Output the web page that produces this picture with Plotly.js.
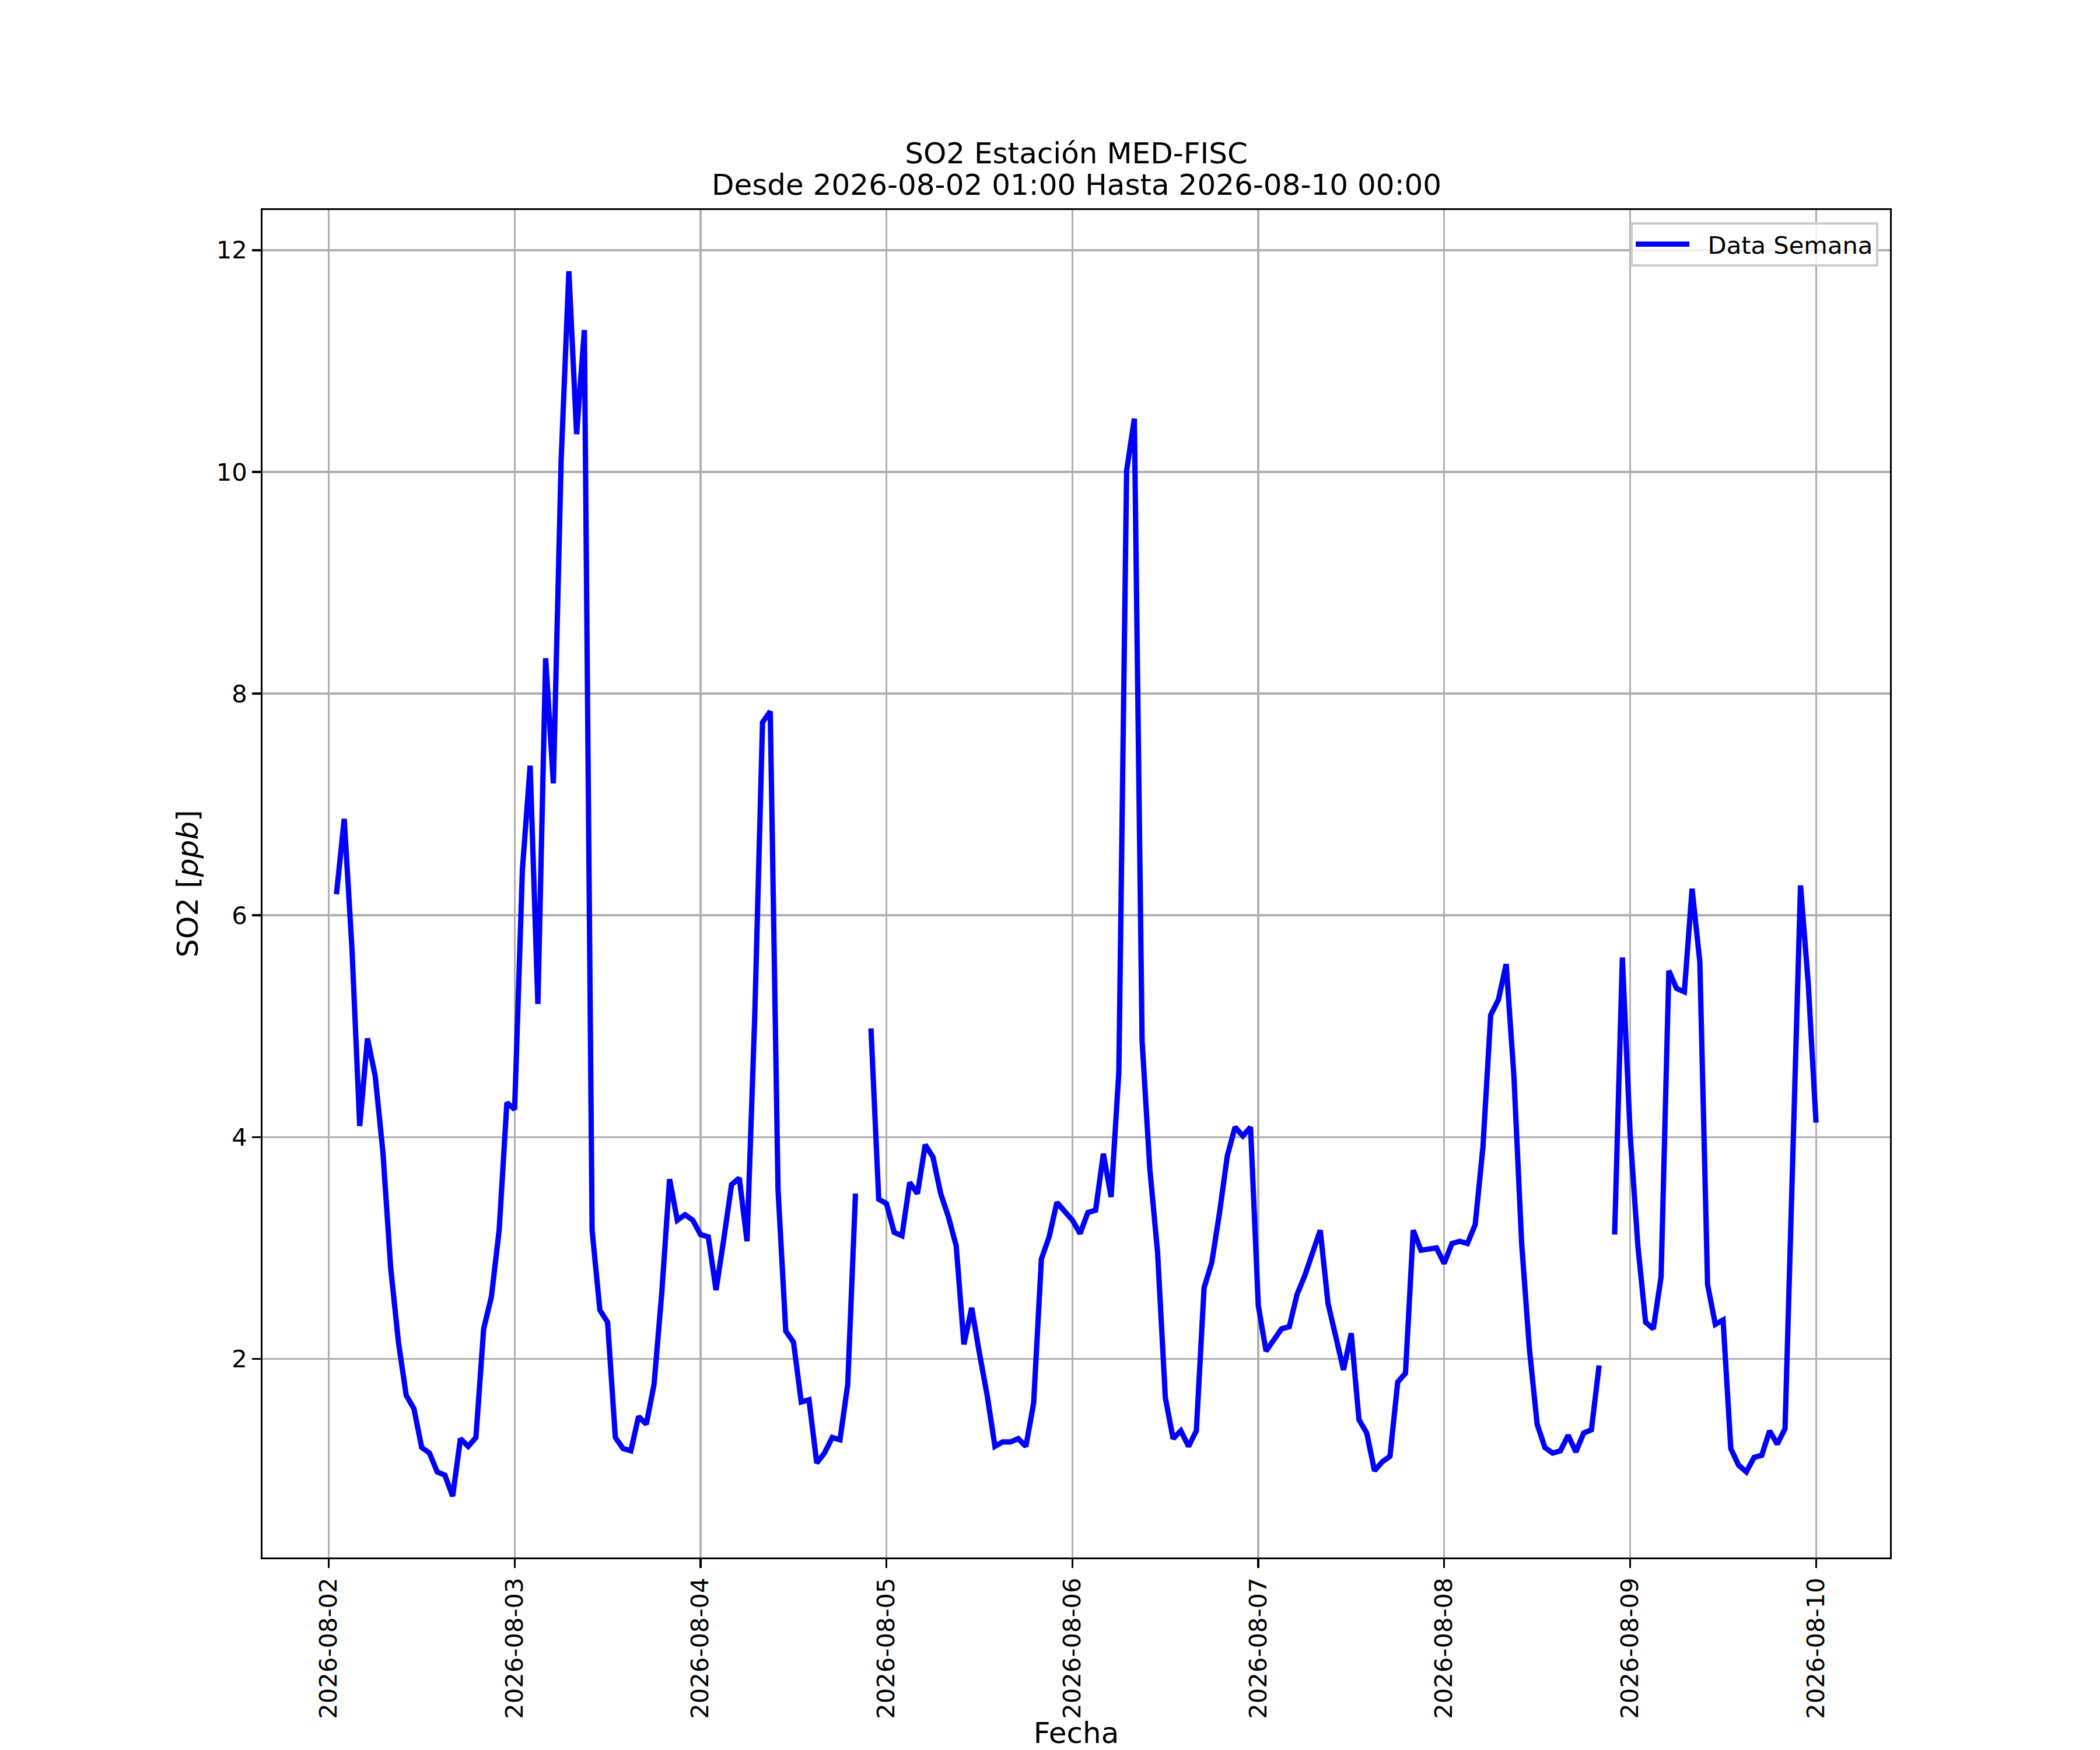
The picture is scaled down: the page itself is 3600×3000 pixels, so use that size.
<!DOCTYPE html>
<html>
<head>
<meta charset="utf-8">
<script src="https://cdn.plot.ly/plotly-3.0.1.min.js"></script>
<style>
  html, body { margin: 0; padding: 0; background: #ffffff; }
  #chart { width: 3600px; height: 3000px; }
</style>
</head>
<body>
<div id="chart"></div>
<script>
// Hourly SO2 readings (ppb), 01:00 of each day through 00:00 of the next day
const so2_0802 = [6.19, 6.87, 5.70, 4.10, 4.89, 4.55, 3.86, 2.82, 2.15, 1.67, 1.55, 1.20,
                  1.15, 0.98, 0.95, 0.76, 1.28, 1.21, 1.29, 2.27, 2.56, 3.16, 4.31, 4.25];
const so2_0803 = [6.41, 7.35, 5.20, 8.32, 7.19, 10.10, 11.81, 10.34, 11.28, 3.16, 2.44, 2.33,
                  1.29, 1.19, 1.17, 1.48, 1.41, 1.77, 2.60, 3.62, 3.25, 3.30, 3.25, 3.12];
const so2_0804 = [3.10, 2.62, 3.08, 3.57, 3.63, 3.06, 5.10, 7.74, 7.84, 3.53, 2.25, 2.15,
                  1.61, 1.63, 1.06, 1.15, 1.29, 1.27, 1.77, 3.49, null, 4.98, 3.44, 3.40];
const so2_0805 = [3.14, 3.11, 3.59, 3.49, 3.93, 3.82, 3.49, 3.28, 3.02, 2.13, 2.46, 2.05,
                  1.67, 1.21, 1.25, 1.25, 1.28, 1.21, 1.60, 2.90, 3.10, 3.41, 3.33, 3.25];
const so2_0806 = [3.13, 3.32, 3.34, 3.85, 3.46, 4.59, 10.01, 10.48, 4.87, 3.71, 2.96, 1.65,
                  1.28, 1.35, 1.21, 1.35, 2.64, 2.87, 3.32, 3.83, 4.09, 4.01, 4.09, 2.48];
const so2_0807 = [2.07, 2.18, 2.27, 2.29, 2.58, 2.75, 2.94, 3.16, 2.50, 2.18, 1.90, 2.23,
                  1.45, 1.33, 0.99, 1.07, 1.12, 1.79, 1.87, 3.16, 2.98, 2.99, 3.00, 2.86];
const so2_0808 = [3.04, 3.06, 3.04, 3.21, 3.91, 5.10, 5.24, 5.56, 4.55, 3.04, 2.09, 1.41,
                  1.20, 1.15, 1.17, 1.31, 1.16, 1.33, 1.36, 1.94, null, 3.12, 5.62, 4.03];
const so2_0809 = [3.02, 2.33, 2.27, 2.74, 5.50, 5.34, 5.31, 6.24, 5.58, 2.67, 2.31, 2.35,
                  1.19, 1.04, 0.98, 1.11, 1.13, 1.35, 1.23, 1.37, 3.95, 6.27, 5.38, 4.13];

const dayStarts = ['2026-08-02', '2026-08-03', '2026-08-04', '2026-08-05',
                   '2026-08-06', '2026-08-07', '2026-08-08', '2026-08-09'];
const tickLabels = ['2026-08-02', '2026-08-03', '2026-08-04', '2026-08-05', '2026-08-06',
                    '2026-08-07', '2026-08-08', '2026-08-09', '2026-08-10'];

const seriesName = 'Data Semana';
const titleLine1 = 'SO2 Estación MED-FISC';
const titleLine2 = 'Desde 2026-08-02 01:00 Hasta 2026-08-10 00:00';
const xLabel = 'Fecha';
const yLabel = 'SO2 [<i>ppb</i>]';

const dayValues = [so2_0802, so2_0803, so2_0804, so2_0805, so2_0806, so2_0807, so2_0808, so2_0809];

function pad(n) { return (n < 10 ? '0' : '') + n; }
const times = [];
const values = [];
dayValues.forEach(function (arr, d) {
  const base = new Date(dayStarts[d] + 'T00:00:00Z');
  arr.forEach(function (v, i) {
    const t = new Date(base.getTime() + (i + 1) * 3600000);
    times.push(t.getUTCFullYear() + '-' + pad(t.getUTCMonth() + 1) + '-' + pad(t.getUTCDate()) +
               ' ' + pad(t.getUTCHours()) + ':00');
    values.push(v);
  });
});

// matplotlib-style 5% auto margins
const t0 = new Date(times[0].replace(' ', 'T') + ':00Z').getTime();
const t1 = new Date(times[times.length - 1].replace(' ', 'T') + ':00Z').getTime();
const xm = (t1 - t0) * 0.05;
function fmt(ms) {
  const t = new Date(ms);
  return t.getUTCFullYear() + '-' + pad(t.getUTCMonth() + 1) + '-' + pad(t.getUTCDate()) + ' ' +
         pad(t.getUTCHours()) + ':' + pad(t.getUTCMinutes()) + ':' + pad(t.getUTCSeconds());
}
const nums = values.filter(function (v) { return v !== null; });
const ymin = Math.min.apply(null, nums), ymax = Math.max.apply(null, nums);
const ym = (ymax - ymin) * 0.05;

const FONT = 'DejaVu Sans, Liberation Sans, sans-serif';
const PX = 300 / 72; // points to pixels at 300 dpi

const trace = {
  x: times,
  y: values,
  type: 'scatter',
  mode: 'lines',
  name: '\u00a0\u00a0' + seriesName,
  connectgaps: false,
  line: { color: '#0000ff', width: 2.2 * PX }
};

const axisCommon = {
  showgrid: true,
  gridcolor: '#b0b0b0',
  gridwidth: 0.8 * PX,
  showline: true,
  mirror: true,
  linecolor: '#000000',
  linewidth: 0.8 * PX,
  ticks: 'outside',
  ticklen: 3.5 * PX,
  tickwidth: 0.8 * PX,
  tickcolor: '#000000',
  tickfont: { family: FONT, size: 10 * PX, color: '#000000' },
  zeroline: false,
  automargin: false
};

const layout = {
  width: 3600,
  height: 3000,
  paper_bgcolor: '#ffffff',
  plot_bgcolor: '#ffffff',
  margin: { l: 450, r: 360, t: 360, b: 330, pad: 0 },
  font: { family: FONT, color: '#000000' },
  showlegend: true,
  title: {
    text: titleLine1,
    font: { family: FONT, size: 12 * PX, color: '#000000' },
    xref: 'paper', x: 0.5, xanchor: 'center',
    yref: 'container', y: 1 - 262 / 3000, yanchor: 'middle'
  },
  annotations: [{
    text: titleLine2,
    xref: 'paper', x: 0.5, xanchor: 'center',
    yref: 'paper', y: 1 + (360 - 317) / 2310, yanchor: 'middle',
    showarrow: false,
    font: { family: FONT, size: 12 * PX, color: '#000000' }
  }],
  legend: {
    x: 0.9928, xanchor: 'right',
    y: 0.991, yanchor: 'top',
    bgcolor: 'rgba(255,255,255,0.8)',
    bordercolor: '#cccccc',
    borderwidth: 1.0 * PX,
    font: { family: FONT, size: 10 * PX, color: '#000000' },
    itemwidth: 92
  },
  xaxis: Object.assign({}, axisCommon, {
    type: 'date',
    range: [fmt(t0 - xm), fmt(t1 + xm)],
    tickmode: 'array',
    tickvals: tickLabels,
    ticktext: tickLabels,
    tickangle: -90,
    title: { text: xLabel, font: { family: FONT, size: 12 * PX, color: '#000000' }, standoff: 26 }
  }),
  yaxis: Object.assign({}, axisCommon, {
    range: [ymin - ym, ymax + ym],
    tickmode: 'linear',
    tick0: 0,
    dtick: 2,
    title: { text: yLabel, font: { family: FONT, size: 12 * PX, color: '#000000' }, standoff: 16 }
  })
};

Plotly.newPlot('chart', [trace], layout, { staticPlot: true, displayModeBar: false });
</script>
</body>
</html>
